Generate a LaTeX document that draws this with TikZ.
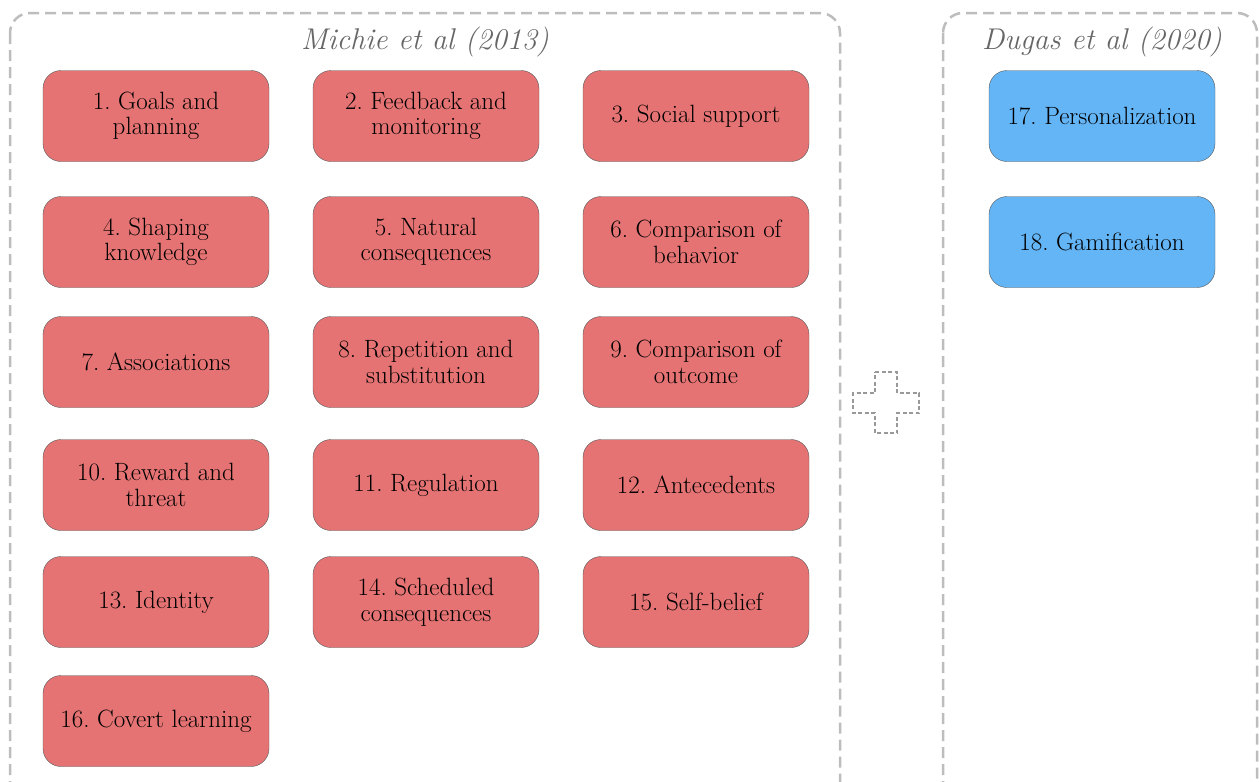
\documentclass[tikz,border=0pt]{standalone}
\usetikzlibrary{positioning}
\definecolor{bctred}{HTML}{E57373}
\definecolor{bctblue}{HTML}{64B5F6}
\definecolor{groupgray}{HTML}{BDBDBD}
\frenchspacing

\begin{document}
\begin{tikzpicture}[x=1pt, y=-1pt, node distance=270pt]
\tikzstyle{bct}=[draw=black!65, fill=bctred, rounded corners=18pt, minimum width=226pt, minimum height=91pt, align=center, text=black, inner sep=2pt, font=\fontsize{25}{25.5}\selectfont]
\tikzstyle{extra}=[bct, fill=bctblue]
\tikzstyle{group}=[draw=groupgray, line width=2.5pt, rounded corners=20pt, dash pattern=on 11pt off 6pt]
\tikzstyle{grouptitle}=[text=black!60, font=\fontsize{30}{32}\selectfont\itshape]
\useasboundingbox (0,0) rectangle (1259,782);
% groups
\draw[group] (10,13) rectangle (840,810);
\draw[group] (943,13) rectangle (1257,810);
\node[grouptitle] (michie) at (425,42) {Michie et al (2013)};
\node[grouptitle] (dugas) at (1102,42) {Dugas et al (2020)};
% Michie et al techniques
\node[bct]  (goals)      at (156,116)   {1. Goals and\\planning};
\node[bct]  (feedback)   [right of=goals]      {2. Feedback and\\monitoring};
\node[bct]  (social)     [right of=feedback]   {3. Social support};
\node[bct]  (shaping)    at (156,242)   {4. Shaping\\knowledge};
\node[bct]  (natural)    [right of=shaping]    {5. Natural\\consequences};
\node[bct]  (compbeh)    [right of=natural]    {6. Comparison of\\behavior};
\node[bct]  (assoc)      at (156,362)   {7. Associations};
\node[bct]  (repet)      [right of=assoc]      {8. Repetition and\\substitution};
\node[bct]  (compout)    [right of=repet]      {9. Comparison of\\outcome};
\node[bct]  (reward)     at (156,485)   {10. Reward and\\threat};
\node[bct]  (regul)      [right of=reward]     {11. Regulation};
\node[bct]  (antec)      [right of=regul]      {12. Antecedents};
\node[bct]  (identity)   at (156,602)   {13. Identity};
\node[bct]  (sched)      [right of=identity]   {14. Scheduled\\consequences};
\node[bct]  (selfbel)    [right of=sched]      {15. Self-belief};
\node[bct]  (covert)     at (156,721)   {16. Covert learning};
% Dugas et al techniques
\node[extra] (personal)  at (1102,116)  {17. Personalization};
\node[extra] (gamif)     at (1102,242)  {18. Gamification};
% plus sign
\draw[draw=black!40, line width=1.3pt, dash pattern=on 4pt off 2.5pt]
  (875,372) -- (897,372) -- (897,393) -- (919,393) -- (919,413) -- (897,413)
  -- (897,433) -- (875,433) -- (875,413) -- (853,413) -- (853,393) -- (875,393) -- cycle;
\end{tikzpicture}
\end{document}
